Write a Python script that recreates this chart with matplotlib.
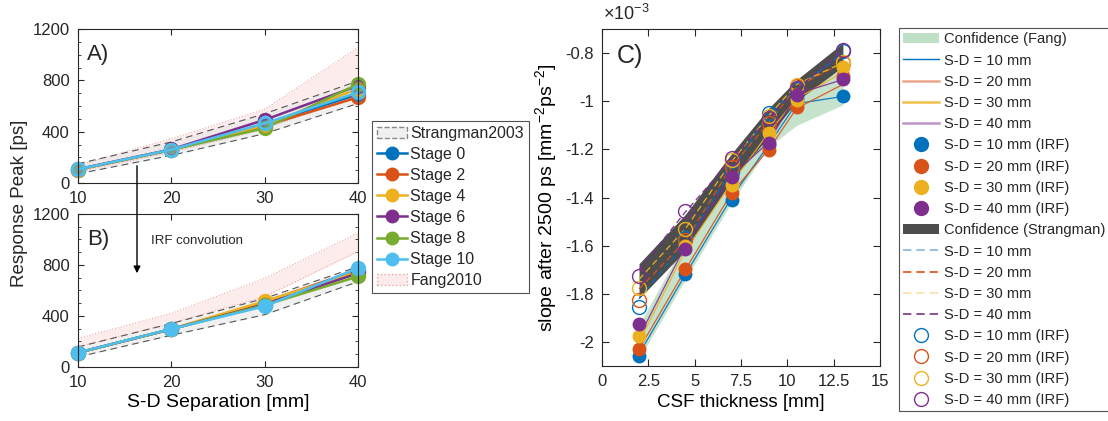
import numpy as np
import matplotlib.pyplot as plt
from matplotlib.patches import Patch, FancyArrowPatch
from matplotlib.lines import Line2D
from matplotlib.colors import to_rgba

plt.rcParams['font.family'] = ['Liberation Sans', 'DejaVu Sans']
plt.rcParams['mathtext.fontset'] = 'custom'
plt.rcParams['mathtext.rm'] = 'Liberation Sans'
plt.rcParams['mathtext.it'] = 'Liberation Sans'
plt.rcParams['mathtext.default'] = 'regular'
plt.rcParams['text.color'] = '#262626'
plt.rcParams['axes.edgecolor'] = '#262626'
plt.rcParams['xtick.color'] = '#262626'
plt.rcParams['ytick.color'] = '#262626'

# ---- datos panel A/B ----
sd = [10, 20, 30, 40]
stages = ['Stage 0', 'Stage 2', 'Stage 4', 'Stage 6', 'Stage 8', 'Stage 10']
stage_colors = ['#0072BD', '#D95319', '#EDB120', '#7E2F8E', '#77AC30', '#4DBEEE']

peak_a = [
    [105, 258, 460, 690],
    [105, 258, 445, 668],
    [105, 258, 450, 735],
    [108, 262, 492, 758],
    [106, 258, 428, 770],
    [107, 260, 465, 706],
]
peak_b = [
    [112, 297, 495, 750],
    [112, 297, 510, 762],
    [112, 297, 516, 745],
    [112, 297, 490, 735],
    [112, 297, 485, 710],
    [113, 298, 476, 775],
]
strang_a_up = [150, 320, 540, 795]
strang_a_lo = [72, 215, 385, 620]
strang_b_up = [157, 341, 538, 787]
strang_b_lo = [79, 249, 410, 669]
fang_a_up = [140, 345, 575, 1055]
fang_a_lo = [90, 240, 420, 690]
fang_b_up = [224, 420, 696, 1050]
fang_b_lo = [158, 342, 551, 906]

# ---- datos panel C (x 1e-3) ----
csf = [2, 4.5, 7, 9, 10.5, 13]
sd_labels = ['S-D = 10 mm', 'S-D = 20 mm', 'S-D = 30 mm', 'S-D = 40 mm']
sd_colors = ['#0072BD', '#D95319', '#EDB120', '#7E2F8E']

fang_lines = [
    [-2.05, -1.72, -1.40, -1.18, -1.01, -0.98],
    [-2.03, -1.70, -1.38, -1.20, -1.03, -0.93],
    [-2.00, -1.62, -1.34, -1.13, -0.99, -0.88],
    [-1.98, -1.60, -1.31, -1.17, -0.97, -0.91],
]
strang_lines = [
    [-1.82, -1.59, -1.29, -1.05, -0.95, -0.80],
    [-1.78, -1.58, -1.27, -1.09, -0.94, -0.84],
    [-1.74, -1.53, -1.25, -1.06, -0.93, -0.84],
    [-1.70, -1.46, -1.24, -1.07, -0.95, -0.79],
]
fang_irf = [
    [-2.06, -1.717, -1.41, -1.18, -0.99, -0.98],
    [-2.03, -1.696, -1.383, -1.203, -1.022, -0.897],
    [-1.977, -1.60, -1.35, -1.133, -0.995, -0.856],
    [-1.925, -1.612, -1.314, -1.175, -0.974, -0.908],
]
strang_irf = [
    [-1.856, -1.57, -1.293, -1.05, -0.95, -0.79],
    [-1.825, -1.578, -1.272, -1.092, -0.935, -0.84],
    [-1.777, -1.529, -1.244, -1.06, -0.932, -0.835],
    [-1.724, -1.457, -1.237, -1.071, -0.946, -0.789],
]
conf_fang_up = [-1.93, -1.58, -1.30, -1.08, -0.97, -0.86]
conf_fang_lo = [-2.07, -1.74, -1.42, -1.19, -1.10, -1.015]
conf_strang_up = [-1.675, -1.47, -1.217, -1.029, -0.911, -0.758]
conf_strang_lo = [-1.82, -1.62, -1.328, -1.147, -1.0, -0.856]

fig = plt.figure(figsize=(11.08, 4.21), dpi=100)
ax_a = fig.add_axes([0.0704, 0.5653, 0.2527, 0.3658])
ax_b = fig.add_axes([0.0704, 0.1283, 0.2527, 0.3634])
ax_c = fig.add_axes([0.5433, 0.1306, 0.2509, 0.8005])

pink = '#fdeaea'
pink_edge = '#e8a8a8'
gray_fill = '#e6e6e6'


def panel(ax, data, s_up, s_lo, f_up, f_lo, open_face):
    ax.fill_between(sd, f_lo, f_up, color=pink, lw=0, alpha=0.9)
    ax.plot(sd, f_up, ':', color=pink_edge, lw=0.8)
    ax.plot(sd, f_lo, ':', color=pink_edge, lw=0.8)
    ax.fill_between(sd, s_lo, s_up, color=gray_fill, lw=0, alpha=0.6)
    ax.plot(sd, s_up, '--', color='#555555', lw=0.8, dashes=(6, 4))
    ax.plot(sd, s_lo, '--', color='#555555', lw=0.8, dashes=(6, 4))
    for vals, c in zip(data, stage_colors):
        face = to_rgba(c, 0.3) if open_face else c
        ax.plot(sd, vals, '-o', color=c, lw=1.8, ms=9, mfc=face, mec=c, mew=2,
                clip_on=False)
    ax.set_xlim(10, 40)
    ax.set_ylim(0, 1200)
    ax.set_xticks(sd)
    ax.set_yticks([0, 400, 800, 1200])
    ax.set_yticks(np.arange(0, 1201, 100), minor=True)
    ax.tick_params(direction='in', top=True, right=True, labelsize=12, length=4, pad=6)
    ax.tick_params(which='minor', direction='in', right=True, left=True, length=2)


panel(ax_a, peak_a, strang_a_up, strang_a_lo, fang_a_up, fang_a_lo, True)
panel(ax_b, peak_b, strang_b_up, strang_b_lo, fang_b_up, fang_b_lo, False)
ax_a.text(0.033, 0.9, 'A)', transform=ax_a.transAxes, fontsize=16, va='top')
ax_b.text(0.033, 0.9, 'B)', transform=ax_b.transAxes, fontsize=16, va='top')
ax_b.set_xlabel('S-D Separation [mm]', fontsize=14, labelpad=3)
fig.text(20 / 1108, 1 - 203 / 421, 'Response Peak [ps]', rotation=90, fontsize=13.5,
         va='center', ha='center')

# flecha IRF
fig.patches.append(FancyArrowPatch(
    (137 / 1108, 1 - 163 / 421), (137 / 1108, 1 - 276 / 421),
    transform=fig.transFigure, arrowstyle='-|>', mutation_scale=10,
    color='black', lw=1))
fig.text(151 / 1108, 1 - 241 / 421, 'IRF convolution', fontsize=9.5, va='center')

handles_ab = [Patch(facecolor='#f0f0f0', edgecolor='#888888', linestyle='--',
                    label='Strangman2003')]
for name, c in zip(stages, stage_colors):
    handles_ab.append(Line2D([], [], color=c, lw=1.8, marker='o', ms=9, label=name))
handles_ab.append(Patch(facecolor=pink, edgecolor=pink_edge, linestyle=':',
                        label='Fang2010'))
leg_ab = fig.legend(handles=handles_ab, loc='upper left',
                    bbox_to_anchor=(372 / 1108, 1 - 121 / 421), fontsize=11.5,
                    frameon=True, fancybox=False, edgecolor='#262626',
                    handlelength=1.9, handletextpad=0.2, labelspacing=0.38,
                    borderpad=0.3, borderaxespad=0)
leg_ab.get_frame().set_linewidth(0.8)

# ---- panel C ----
ax_c.fill_between(csf, conf_fang_lo, conf_fang_up, color='#bfdfc7', lw=0, alpha=0.9)
ax_c.fill_between(csf, conf_strang_lo, conf_strang_up, color='#4d4d4d', lw=0)
for i, c in enumerate(sd_colors):
    ax_c.plot(csf, fang_lines[i], '-', color=c, lw=0.9, alpha=0.9)
    ax_c.plot(csf, strang_lines[i], '--', color=c, lw=0.9, dashes=(5, 3))
for i, c in enumerate(sd_colors):
    ax_c.plot(csf, fang_irf[i], 'o', color=c, ms=9, mec=c)
    ax_c.plot(csf, strang_irf[i], 'o', mfc='none', mec=c, ms=10, mew=1)
ax_c.set_xlim(0, 15)
ax_c.set_ylim(-2.1, -0.7)
ax_c.set_xticks(np.arange(0, 15.1, 2.5))
ax_c.set_xticklabels(['0', '2.5', '5', '7.5', '10', '12.5', '15'])
ax_c.set_yticks([-2, -1.8, -1.6, -1.4, -1.2, -1, -0.8])
ax_c.set_yticklabels(['-2', '-1.8', '-1.6', '-1.4', '-1.2', '-1', '-0.8'])
ax_c.tick_params(direction='in', top=True, right=True, labelsize=12, length=5, pad=6)
ax_c.set_xlabel('CSF thickness [mm]', fontsize=13.5, labelpad=3)
ax_c.set_ylabel('slope after 2500 ps [mm$^{-2}$ps$^{-2}$]', fontsize=14, labelpad=4)
ax_c.text(0.054, 0.955, 'C)', transform=ax_c.transAxes, fontsize=18, va='top')
ax_c.text(0.005, 1.015, r'$\times10^{-3}$', transform=ax_c.transAxes, fontsize=13,
          va='bottom', ha='left')

handles_c = [Patch(facecolor='#bfdfc7', edgecolor='none', label='Confidence (Fang)')]
for lab, c, a in zip(sd_labels, sd_colors, [1, 0.5, 0.8, 0.5]):
    handles_c.append(Line2D([], [], color=c, lw=1 if a == 1 else 1.8, alpha=a, label=lab))
for lab, c in zip(sd_labels, sd_colors):
    handles_c.append(Line2D([], [], color=c, marker='o', ls='none', ms=10,
                            label=lab + ' (IRF)'))
handles_c.append(Patch(facecolor='#4d4d4d', edgecolor='none',
                       label='Confidence (Strangman)'))
for lab, c, a in zip(sd_labels, sd_colors, [0.5, 1, 0.4, 1]):
    handles_c.append(Line2D([], [], color=c, lw=1.2, ls='--', dashes=(5, 3),
                            alpha=a, label=lab))
for lab, c in zip(sd_labels, sd_colors):
    handles_c.append(Line2D([], [], marker='o', ls='none', ms=10, mfc='none',
                            mec=c, mew=1, label=lab + ' (IRF)'))
leg_c = fig.legend(handles=handles_c, loc='upper left',
                   bbox_to_anchor=(899 / 1108, 1 - 28 / 421), fontsize=10.6,
                   frameon=True, fancybox=False, edgecolor='#262626',
                   handlelength=2.45, handletextpad=0.3, labelspacing=0.49,
                   borderpad=0.3, borderaxespad=0)
leg_c.get_frame().set_linewidth(0.8)

fig.savefig('out.png', dpi=100)
